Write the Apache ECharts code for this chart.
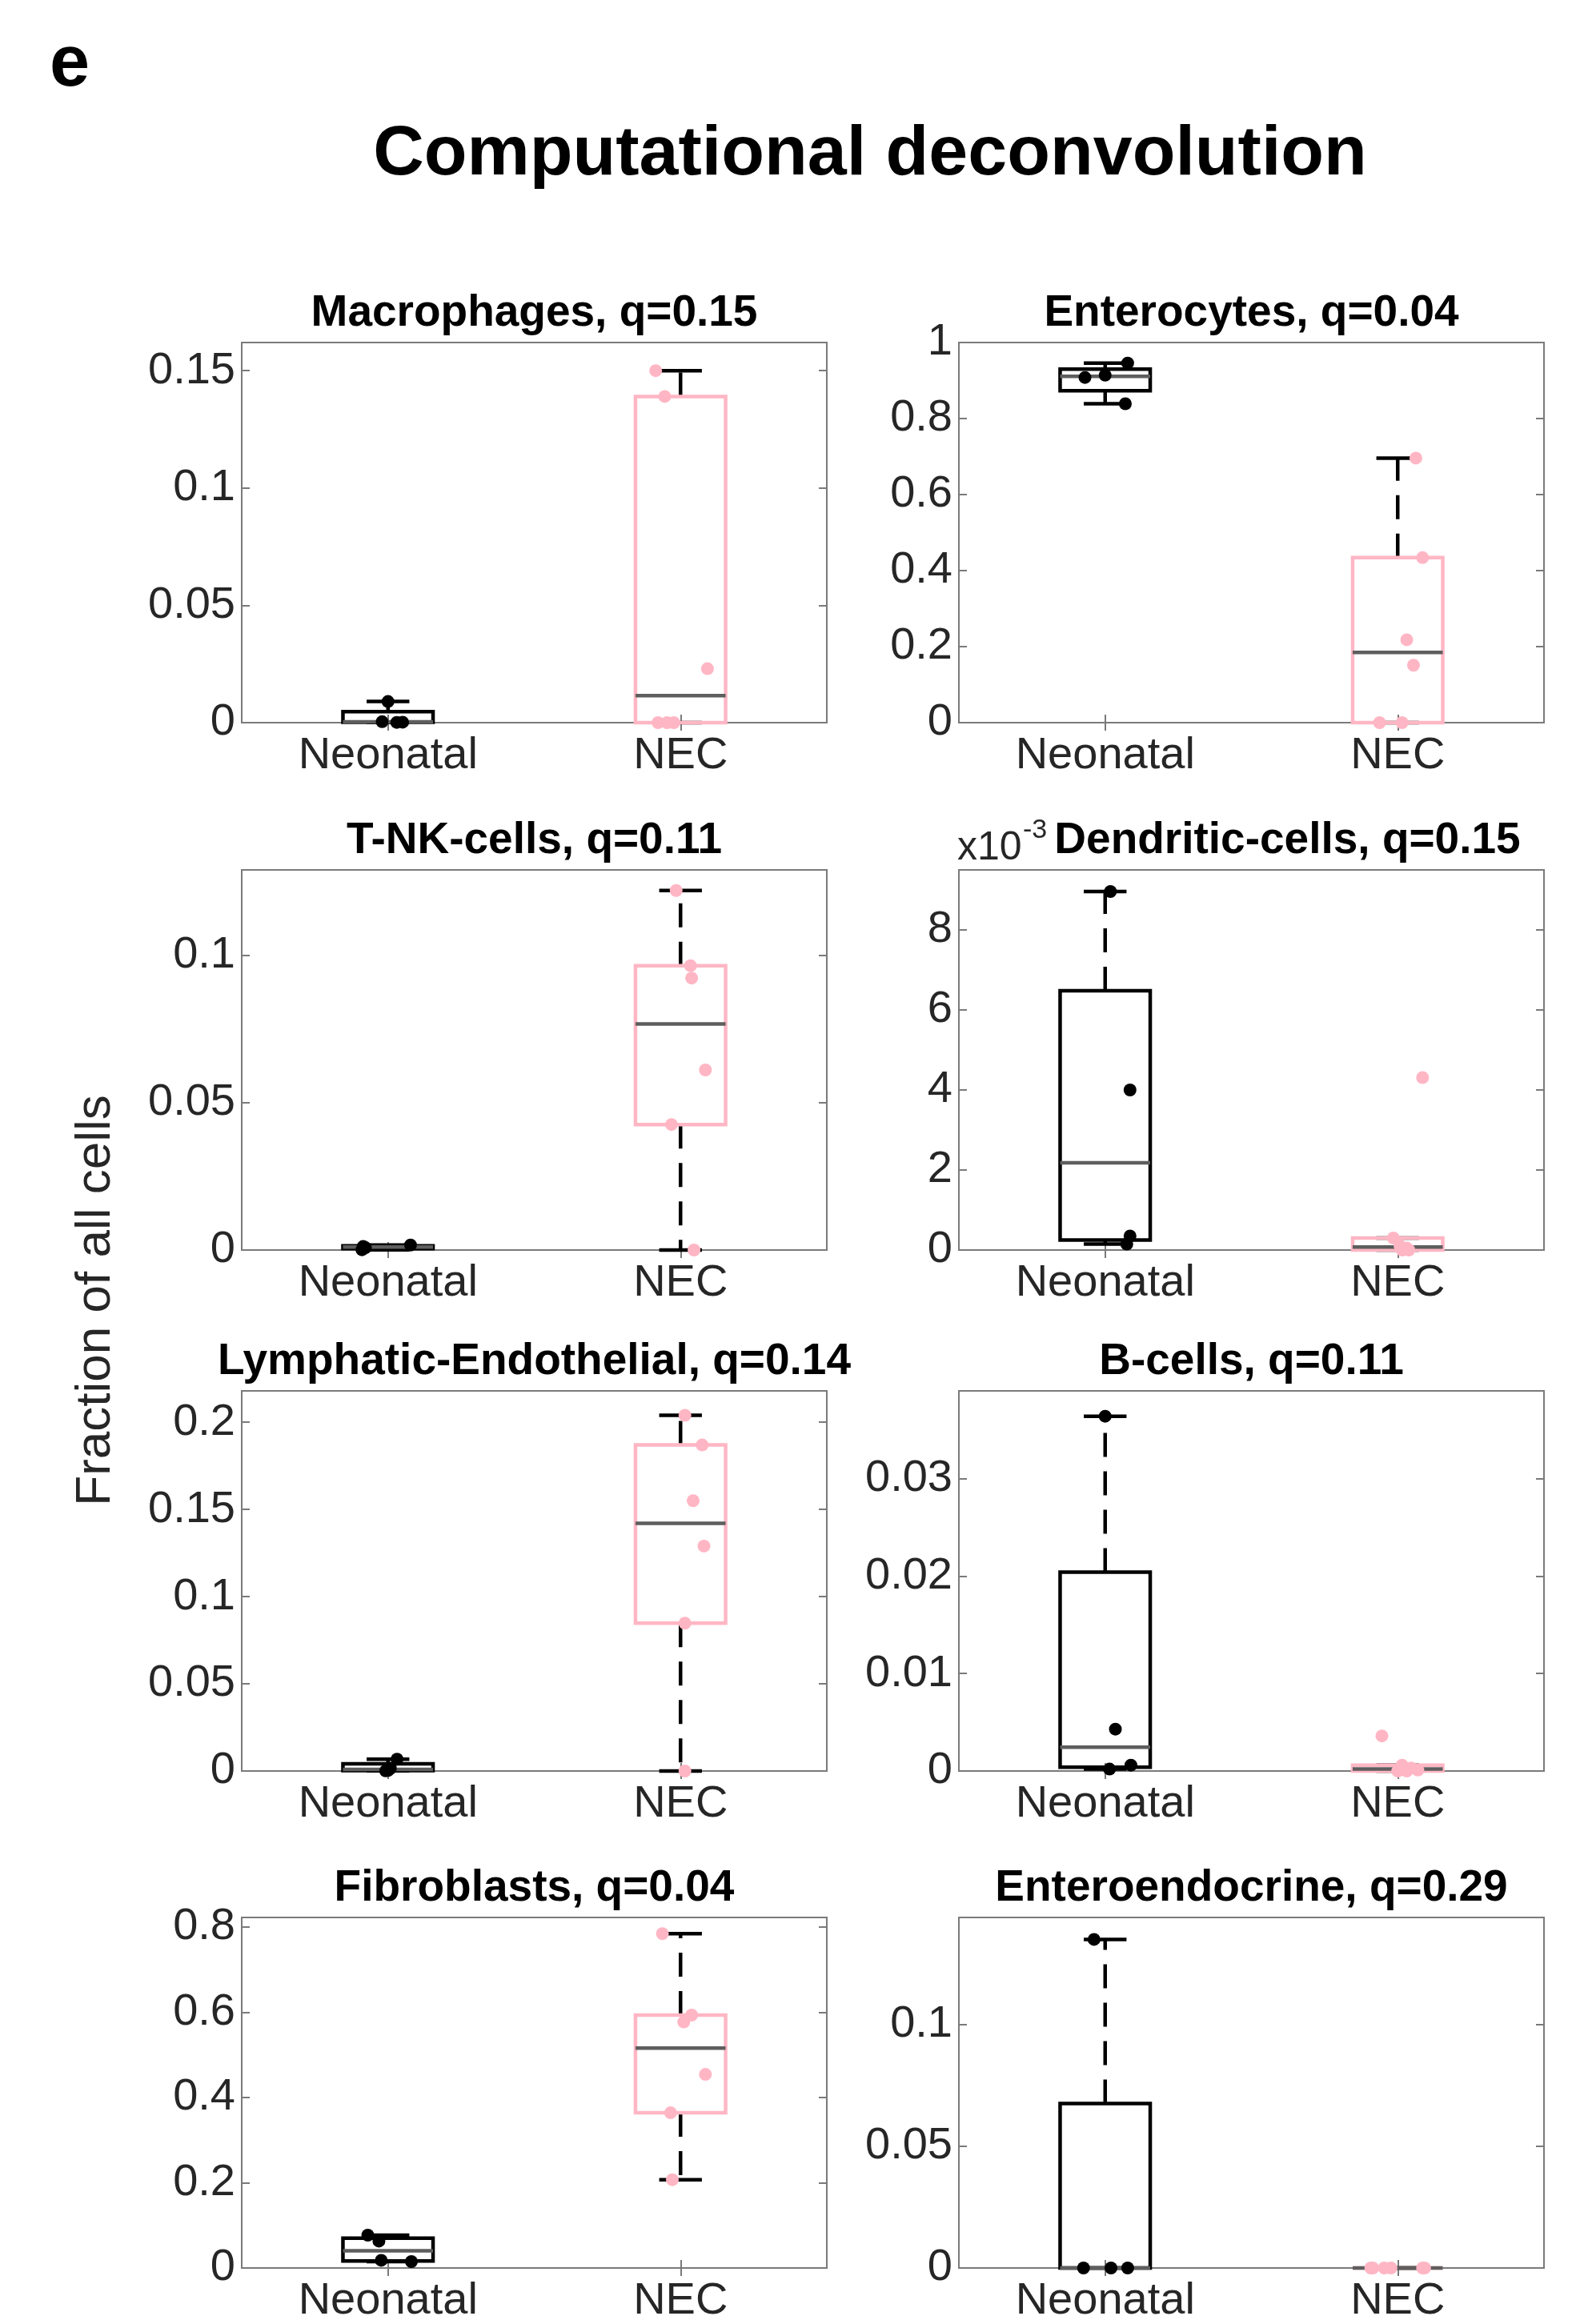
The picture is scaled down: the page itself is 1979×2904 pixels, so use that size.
<!DOCTYPE html>
<html>
<head>
<meta charset="utf-8">
<script src="https://cdn.jsdelivr.net/npm/echarts@6/dist/echarts.min.js"></script>
<style>
  html, body { margin: 0; background: #fff; }
  #chart { width: 1979px; height: 2904px; }
</style>
</head>
<body>
<div id="chart"></div>
<script>
// groups on the x axis
const groups = ['Neonatal', 'NEC'];

const panelTitles = [
  'Macrophages, q=0.15', 'Enterocytes, q=0.04',
  'T-NK-cells, q=0.11', 'Dendritic-cells, q=0.15',
  'Lymphatic-Endothelial, q=0.14', 'B-cells, q=0.11',
  'Fibroblasts, q=0.04', 'Enteroendocrine, q=0.29'
];

const yMax = [0.162, 1, 0.129, 0.0095, 0.218, 0.039, 0.822, 0.144];

const yTicks = [
  [0, 0.05, 0.1, 0.15], [0, 0.2, 0.4, 0.6, 0.8, 1],
  [0, 0.05, 0.1], [0, 0.002, 0.004, 0.006, 0.008],
  [0, 0.05, 0.1, 0.15, 0.2], [0, 0.01, 0.02, 0.03],
  [0, 0.2, 0.4, 0.6, 0.8], [0, 0.05, 0.1]
];
const yTickLabels = [
  ['0', '0.05', '0.1', '0.15'], ['0', '0.2', '0.4', '0.6', '0.8', '1'],
  ['0', '0.05', '0.1'], ['0', '2', '4', '6', '8'],
  ['0', '0.05', '0.1', '0.15', '0.2'], ['0', '0.01', '0.02', '0.03'],
  ['0', '0.2', '0.4', '0.6', '0.8'], ['0', '0.05', '0.1']
];

// box stats: [min, q1, median, q3, max]
const neoBox = [
  [0.0001, 0.00015, 0.0003, 0.0047, 0.009],
  [0.839, 0.873, 0.911, 0.930, 0.946],
  [0.0001, 0.00045, 0.001, 0.00145, 0.0017],
  [0.00015, 0.00025, 0.00218, 0.00648, 0.00896],
  [0.0001, 0.0002, 0.0009, 0.0041, 0.0068],
  [0.0002, 0.0004, 0.00245, 0.0204, 0.0364],
  [0.015, 0.0165, 0.0405, 0.070, 0.077],
  [0, 0, 0, 0.0676, 0.135]
];
const necBox = [
  [0, 0, 0.0115, 0.139, 0.150],
  [0, 0, 0.185, 0.434, 0.696],
  [0, 0.0426, 0.0767, 0.0965, 0.122],
  [0, 0, 0.000075, 0.0003, 0.0003],
  [0, 0.0848, 0.142, 0.187, 0.204],
  [0, 0, 0.0002, 0.0006, 0.0006],
  [0.207, 0.364, 0.5155, 0.593, 0.784],
  [0, 0, 0, 0, 0]
];

// individual samples: [jitter from group centre, value]
const neoPoints = [
  [[0, 0.009], [-0.02, 0.0004], [0.05, 0.0002], [0.03, 0.0001]],
  [[-0.069, 0.908], [0, 0.914], [0.077, 0.946], [0.069, 0.839]],
  [[-0.077, 0.0008], [-0.089, 0.0001], [0.077, 0.0017], [-0.085, 0.0012]],
  [[0.018, 0.00896], [0.085, 0.004], [0.085, 0.00035], [0.074, 0.00015]],
  [[0.031, 0.0068], [0.008, 0.0015], [0, 0.0003], [-0.008, 0.0001]],
  [[0, 0.0364], [0.035, 0.0043], [0.088, 0.0006], [0.015, 0.0002]],
  [[-0.069, 0.077], [-0.031, 0.063], [-0.023, 0.018], [0.08, 0.015]],
  [[-0.038, 0.135], [-0.074, 0], [0.02, 0], [0.077, 0]]
];
const necPoints = [
  [[-0.085, 0.15], [-0.054, 0.139], [0.092, 0.023], [-0.077, 0], [-0.046, 0], [-0.023, 0]],
  [[0.062, 0.696], [0.085, 0.434], [0.031, 0.218], [0.054, 0.151], [-0.062, 0], [0.015, 0]],
  [[-0.015, 0.122], [0.034, 0.0965], [0.038, 0.0923], [0.085, 0.0611], [-0.031, 0.0426], [0.046, 0]],
  [[0.085, 0.00431], [-0.015, 0.0003], [0.008, 0.0001], [0.031, 0.00005], [0.015, 0], [0.038, 0]],
  [[0.015, 0.204], [0.074, 0.187], [0.043, 0.155], [0.08, 0.129], [0.015, 0.0848], [0.015, 0]],
  [[-0.054, 0.0036], [0.015, 0.0006], [0.046, 0.0003], [0.069, 0.0001], [0.031, 0], [0, 0]],
  [[-0.062, 0.784], [0.038, 0.593], [0.011, 0.577], [0.085, 0.454], [-0.034, 0.364], [-0.028, 0.207]],
  [[-0.085, 0], [-0.023, 0], [0.085, 0], [-0.092, 0], [-0.046, 0], [0.092, 0]]
];

const FONT = '"Liberation Sans", Arial, sans-serif';
const AXIS_COLOR = '#262626';
const FRAME_COLOR = '#7a7a7a';
const PINK = '#ffb6c4';
const BOX_HALF = 0.154;
const CAP_HALF = 0.073;
const LW = 4.5;

const colLeft = [302, 1198];
const rowTop = [428, 1087, 1738, 2396];
const gridW = 731;
const gridH = 475;

const chart = echarts.init(document.getElementById('chart'));

const renderBox = (params, api) => {
  const x = api.value(0);
  const lo = api.value(1), q1 = api.value(2), med = api.value(3), q3 = api.value(4), hi = api.value(5);
  const boxColor = params.dataIndex === 0 ? '#000' : PINK;
  const p = (dx, v) => api.coord([x + dx, v]);
  const seg = (a, b, style) => ({
    type: 'line',
    shape: { x1: a[0], y1: a[1], x2: b[0], y2: b[1] },
    style: style
  });
  const dashed = { stroke: '#000', lineWidth: LW, lineDash: [30, 18] };
  const solid = { stroke: '#000', lineWidth: LW };
  const tl = p(-BOX_HALF, q3);
  const br = p(BOX_HALF, q1);
  return {
    type: 'group',
    children: [
      seg(p(0, q3), p(0, hi), dashed),
      seg(p(0, q1), p(0, lo), dashed),
      seg(p(-CAP_HALF, hi), p(CAP_HALF, hi), solid),
      seg(p(-CAP_HALF, lo), p(CAP_HALF, lo), solid),
      {
        type: 'rect',
        shape: { x: tl[0], y: tl[1], width: br[0] - tl[0], height: br[1] - tl[1] },
        style: { fill: 'none', stroke: boxColor, lineWidth: LW }
      },
      seg(p(-BOX_HALF, med), p(BOX_HALF, med), { stroke: '#5e5e5e', lineWidth: LW })
    ]
  };
};

const grids = [], xAxes = [], yAxes = [], series = [], texts = [];

panelTitles.forEach((title, i) => {
  const left = colLeft[i % 2];
  const top = rowTop[Math.floor(i / 2)];
  grids.push({
    left: left, top: top, width: gridW, height: gridH,
    show: true, borderColor: FRAME_COLOR, borderWidth: 2, backgroundColor: '#fff'
  });

  const tickStyle = { inside: true, length: 10, lineStyle: { color: FRAME_COLOR, width: 2 } };
  xAxes.push({
    gridIndex: i, type: 'value', min: 0.5, max: 2.5, position: 'bottom',
    axisLine: { show: false }, splitLine: { show: false },
    axisTick: Object.assign({ customValues: [1, 2] }, tickStyle),
    axisLabel: {
      customValues: [1, 2],
      formatter: v => groups[Math.round(v) - 1],
      fontSize: 56, color: AXIS_COLOR, fontFamily: FONT, margin: 14
    }
  });
  xAxes.push({
    gridIndex: i, type: 'value', min: 0.5, max: 2.5, position: 'top',
    axisLine: { show: false }, splitLine: { show: false },
    axisTick: Object.assign({ customValues: [1, 2] }, tickStyle),
    axisLabel: { show: false }
  });

  const ticks = yTicks[i];
  const labels = yTickLabels[i];
  yAxes.push({
    gridIndex: i, type: 'value', min: 0, max: yMax[i], position: 'left',
    axisLine: { show: false }, splitLine: { show: false },
    axisTick: Object.assign({ customValues: ticks }, tickStyle),
    axisLabel: {
      customValues: ticks,
      formatter: v => labels[ticks.findIndex(t => Math.abs(t - v) < 1e-12)],
      fontSize: 56, color: AXIS_COLOR, fontFamily: FONT, margin: 8
    }
  });
  yAxes.push({
    gridIndex: i, type: 'value', min: 0, max: yMax[i], position: 'right',
    axisLine: { show: false }, splitLine: { show: false },
    axisTick: Object.assign({ customValues: ticks }, tickStyle),
    axisLabel: { show: false }
  });

  series.push({
    type: 'custom',
    xAxisIndex: 2 * i, yAxisIndex: 2 * i,
    renderItem: renderBox,
    encode: { x: 0, y: [1, 2, 3, 4, 5] },
    data: [[1].concat(neoBox[i]), [2].concat(necBox[i])],
    z: 2
  });
  series.push({
    type: 'scatter',
    xAxisIndex: 2 * i, yAxisIndex: 2 * i,
    data: neoPoints[i].map(d => [1 + d[0], d[1]]),
    symbolSize: 16,
    itemStyle: { color: '#000', opacity: 1 },
    z: 3
  });
  series.push({
    type: 'scatter',
    xAxisIndex: 2 * i, yAxisIndex: 2 * i,
    data: necPoints[i].map(d => [2 + d[0], d[1]]),
    symbolSize: 16,
    itemStyle: { color: PINK, opacity: 1 },
    z: 3
  });

  // panel title, the dendritic one sits a bit right of centre
  const shift = i === 3 ? 45 : 0;
  texts.push({
    type: 'text', x: left + gridW / 2 + shift, y: top - 36,
    style: {
      text: title, font: 'bold 55px ' + FONT, fill: '#000',
      textAlign: 'center', textVerticalAlign: 'middle'
    }
  });
});

// exponent label of the dendritic-cells panel
texts.push({
  type: 'text', x: 1196, y: 1060,
  style: { text: 'x10', font: '50px ' + FONT, fill: AXIS_COLOR, textAlign: 'left', textVerticalAlign: 'middle' }
});
texts.push({
  type: 'text', x: 1278, y: 1038,
  style: { text: '-3', font: '34px ' + FONT, fill: AXIS_COLOR, textAlign: 'left', textVerticalAlign: 'middle' }
});

texts.push({
  type: 'text', x: 1087, y: 194,
  style: { text: 'Computational deconvolution', font: 'bold 88px ' + FONT, fill: '#000', textAlign: 'center', textVerticalAlign: 'middle' }
});
texts.push({
  type: 'text', x: 87, y: 82,
  style: { text: 'e', font: 'bold 90px ' + FONT, fill: '#000', textAlign: 'center', textVerticalAlign: 'middle' }
});
texts.push({
  type: 'text', x: 120, y: 1625, rotation: Math.PI / 2,
  style: { text: 'Fraction of all cells', font: '62px ' + FONT, fill: AXIS_COLOR, textAlign: 'center', textVerticalAlign: 'middle' }
});

const option = {
  backgroundColor: '#fff',
  animation: false,
  grid: grids,
  xAxis: xAxes,
  yAxis: yAxes,
  series: series,
  graphic: { elements: texts }
};
chart.setOption(option);
</script>
</body>
</html>
